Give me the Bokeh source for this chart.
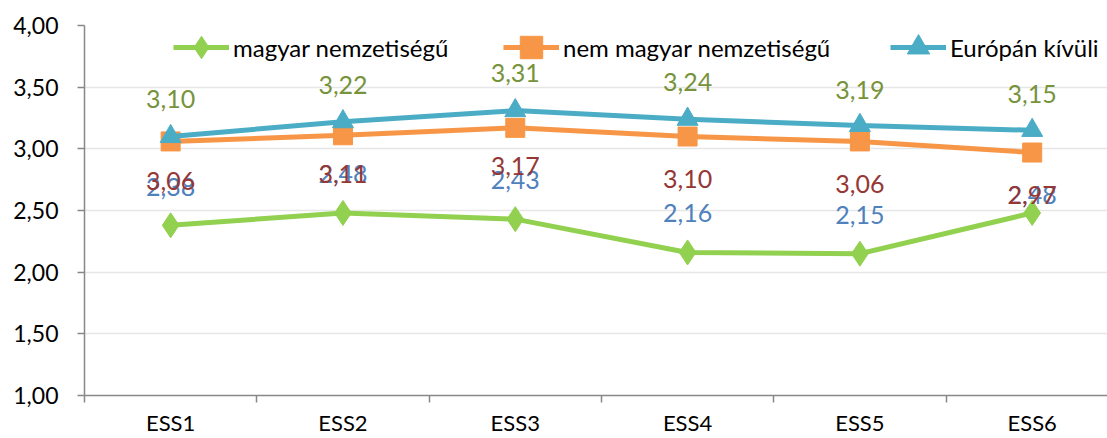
from bokeh.plotting import figure
from bokeh.models import (Range1d, FixedTicker, CustomJSTickFormatter, ColumnDataSource,
                          LabelSet, Legend, LegendItem)
from bokeh.embed import file_html
from bokeh.resources import INLINE
from bokeh.core.properties import value

categories = ["ESS1", "ESS2", "ESS3", "ESS4", "ESS5", "ESS6"]
magyar = [2.38, 2.48, 2.43, 2.16, 2.15, 2.48]
nem_magyar = [3.06, 3.11, 3.17, 3.10, 3.06, 2.97]
europan_kivuli = [3.10, 3.22, 3.31, 3.24, 3.19, 3.15]
series_names = ["magyar nemzetiségű", "nem magyar nemzetiségű", "Európán kívüli"]
y_ticks = [1.0, 1.5, 2.0, 2.5, 3.0, 3.5, 4.0]

FONT = "Lato"
xs = list(range(1, len(categories) + 1))


def fmt(v):
    return f"{v:.2f}".replace(".", ",")


p = figure(width=1107, height=438, output_backend="svg", toolbar_location=None,
           x_range=Range1d(0.5, 6.437), y_range=Range1d(1.0, 4.0))
p.min_border_left = 84
p.min_border_top = 25
p.min_border_bottom = 43
p.min_border_right = 0
p.outline_line_color = None
p.background_fill_color = "white"

# axes
p.yaxis.ticker = FixedTicker(ticks=y_ticks)
p.yaxis.formatter = CustomJSTickFormatter(code="return tick.toFixed(2).replace('.', ',');")
p.yaxis.major_label_text_font = FONT
p.yaxis.major_label_text_font_size = "23px"
p.yaxis.major_label_text_color = "black"
p.yaxis.major_label_standoff = 19
p.yaxis.major_tick_out = 7
p.yaxis.major_tick_in = 0
p.yaxis.minor_tick_line_color = None
p.yaxis.axis_line_color = "#888888"
p.yaxis.axis_line_width = 1.5
p.yaxis.major_tick_line_color = "#888888"
p.yaxis.major_tick_line_width = 1.5

p.xaxis.ticker = FixedTicker(ticks=xs, minor_ticks=[i + 0.5 for i in range(len(categories) + 1)])
p.xaxis.formatter = CustomJSTickFormatter(args=dict(cats=categories),
                                          code="const i = Math.round(tick) - 1; return cats[i] || '';")
p.xaxis.major_label_text_font = FONT
p.xaxis.major_label_text_font_size = "22px"
p.xaxis.major_label_text_color = "black"
p.xaxis.major_label_standoff = 6
p.xaxis.major_tick_line_color = None
p.xaxis.minor_tick_out = 7
p.xaxis.minor_tick_in = 0
p.xaxis.minor_tick_line_color = "#888888"
p.xaxis.minor_tick_line_width = 1.5
p.xaxis.axis_line_color = "#888888"
p.xaxis.axis_line_width = 1.5

p.xgrid.visible = False
p.ygrid.ticker = FixedTicker(ticks=y_ticks)
p.ygrid.grid_line_color = "#E6E6E6"
p.ygrid.grid_line_width = 1.5

colors = ["#92D050", "#F79646", "#4BACC6"]
markers = ["diamond", "square", "triangle"]
sizes = [25, 19, 21]
label_colors = ["#4F81BD", "#953735", "#77933C"]
# per-point label shifts in screen pixels (positive = up), as placed in the original
label_shifts = [[38, 39, 39, 39, 39, 18],
                [-40, -39, -38, -42, -43, -42],
                [38, 37, 38, 37, 35, 36]]
all_series = [magyar, nem_magyar, europan_kivuli]

renderers = []
for vals, col, mk, sz in zip(all_series, colors, markers, sizes):
    src = ColumnDataSource(dict(x=xs, y=vals, lbl=[fmt(v) for v in vals]))
    lr = p.line("x", "y", source=src, line_color=col, line_width=5)
    sr = p.scatter("x", "y", source=src, marker=mk, size=sz, fill_color=col, line_color=col)
    renderers.append((lr, sr, src))

for (lr, sr, src), lc, shifts in zip(renderers, label_colors, label_shifts):
    src.data["dy"] = shifts
    ls = LabelSet(x="x", y="y", text="lbl", source=src, y_offset="dy",
                  text_align="center", text_baseline="middle",
                  text_font=value(FONT), text_font_size="25px", text_color=lc)
    p.add_layout(ls)

legend_x = [89, 419, 806]
for (lr, sr, src), name, lx in zip(renderers, series_names, legend_x):
    lg = Legend(items=[LegendItem(label=name, renderers=[lr, sr])],
                location=(lx, 316), orientation="horizontal",
                glyph_width=56, glyph_height=64, label_height=64,
                label_standoff=4, padding=0, margin=0, spacing=0,
                border_line_color=None, background_fill_alpha=0,
                label_text_font=FONT, label_text_font_size="24px",
                label_text_color="black", label_text_baseline="middle")
    p.add_layout(lg, "center")

open("out.html", "w").write(file_html(p, INLINE))
